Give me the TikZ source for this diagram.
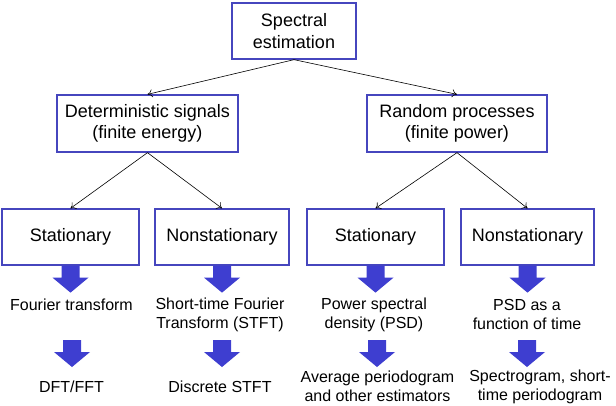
\documentclass[tikz,border=0pt]{standalone}
\usepackage{fontspec}
\setmainfont{Liberation Sans}
\usetikzlibrary{arrows.meta}
\definecolor{boxblue}{RGB}{70,70,190}
\definecolor{arrowblue}{RGB}{62,62,208}
\begin{document}
\begin{tikzpicture}[x=1pt,y=-1pt,
  box/.style={draw=boxblue, line width=1.3pt, inner sep=0pt, align=center,
    font=\fontsize{18}{21.5}\selectfont},
  lbl/.style={inner sep=0pt, align=center, font=\fontsize{16}{19}\selectfont},
  link/.style={-{To[length=5pt,width=8pt]}, line width=0.6pt},
  pics/blockarrow/.style={code={
    \fill[arrowblue] (-9,0) -- (9,0) -- (9,12) -- (18,12) -- (0,27)
      -- (-18,12) -- (-9,12) -- cycle;}}]
\useasboundingbox (0,0) rectangle (616,405);

% tree of boxes
\node[box, minimum width=124pt, minimum height=56pt] (root) at (294,31) {Spectral\\estimation};
\node[box, minimum width=181pt, minimum height=57pt] (det) at (147.5,123.5) {Deterministic signals\\(finite energy)};
\node[box, minimum width=180pt, minimum height=57pt] (rnd) at (457,123.5) {Random processes\\(finite power)};
\node[box, minimum width=137pt, minimum height=56pt] (ds) at (70.5,237) {Stationary};
\node[box, minimum width=134pt, minimum height=56pt] (dn) at (222,237) {Nonstationary};
\node[box, minimum width=137pt, minimum height=56pt] (rs) at (375.5,237) {Stationary};
\node[box, minimum width=133pt, minimum height=56pt] (rn) at (527.5,237) {Nonstationary};

\draw[link] (root.south) -- (det.north);
\draw[link] (root.south) -- (rnd.north);
\draw[link] (det.south) -- (ds.north);
\draw[link] (det.south) -- (dn.north);
\draw[link] (rnd.south) -- (rs.north);
\draw[link] (rnd.south) -- (rn.north);

% first level of results
\node[lbl] (ft) at (71.5,305) {Fourier transform};
\node[lbl] (stft) at (220,314.5) {Short-time Fourier\\Transform (STFT)};
\node[lbl] (psd) at (374,314.5) {Power spectral\\density (PSD)};
\node[lbl] (psdt) at (527,314.5) {PSD as a\\function of time};

% second level of results
\node[lbl] (dft) at (71.5,387) {DFT/FFT};
\node[lbl] (dstft) at (220,387) {Discrete STFT};
\node[lbl] (avg) at (377.5,386.5) {Average periodogram\\and other estimators};
\node[lbl] (spec) at (540,386.5) {Spectrogram, short-\\time periodogram};

% block arrows
\pic at (ds.south) {blockarrow};
\pic at (dn.south) {blockarrow};
\pic at (rs.south) {blockarrow};
\pic at (rn.south) {blockarrow};
\pic at (72,340) {blockarrow};
\pic at (222,340) {blockarrow};
\pic at (377,340) {blockarrow};
\pic at (527,340) {blockarrow};
\end{tikzpicture}
\end{document}
